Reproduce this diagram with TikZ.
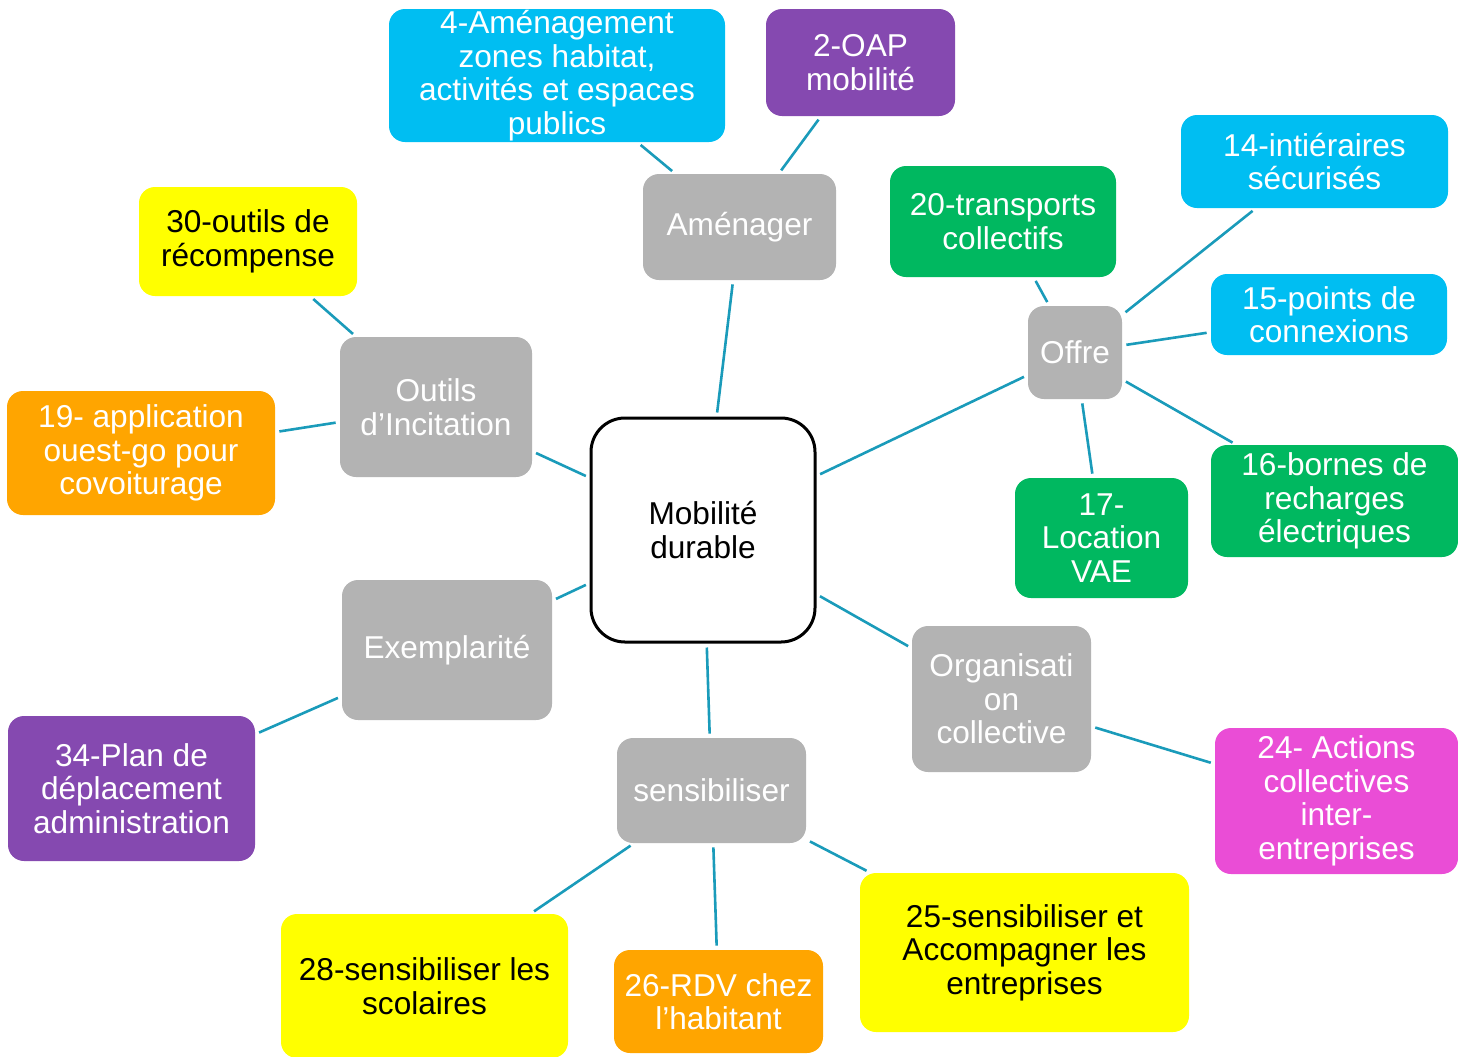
\documentclass[tikz,border=0pt]{standalone}
\usepackage{fontspec}
\setmainfont{Liberation Sans}
\definecolor{gris}{HTML}{B3B3B3}
\definecolor{bleuc}{HTML}{00BEF2}
\definecolor{vertc}{HTML}{00B860}
\definecolor{violetc}{HTML}{8549B0}
\definecolor{jaunec}{HTML}{FFFF00}
\definecolor{orangec}{HTML}{FFA500}
\definecolor{rosec}{HTML}{EA4DD6}
\definecolor{lienc}{HTML}{1A9BBA}

\begin{document}
\begin{tikzpicture}[x=0.5pt,y=-0.5pt,
	every node/.style={font=\fontsize{15.8}{16.8}\selectfont,align=center,inner sep=0pt},
	centre/.style={draw=black,line width=1.5pt,fill=white,rounded corners=17pt},
	cat/.style={fill=gris,text=white,rounded corners=8pt},
	feuille/.style={fill=#1,text=white,rounded corners=8pt},
	feuillej/.style={fill=jaunec,text=black,rounded corners=8pt},
	lien/.style={draw=lienc,line width=1.3pt,shorten >=2pt,shorten <=2pt}]
	\useasboundingbox (0,0) rectangle (1458,1056);
	% noeud central
	\node[centre,minimum width=112pt,minimum height=112pt] (mob) at (703,530) {Mobilité\\durable};
	% categories
	\node[cat,minimum width=96.5pt,minimum height=53pt] (amen) at (739.5,227) {Aménager};
	\node[cat,minimum width=96pt,minimum height=70pt] (outils) at (436,407) {Outils\\d’Incitation};
	\node[cat,minimum width=47pt,minimum height=46.5pt] (offre) at (1075,352.5) {Offre};
	\node[cat,minimum width=105pt,minimum height=70pt] (exemp) at (447,650) {Exemplarité};
	\node[cat,minimum width=89.5pt,minimum height=73pt] (orga) at (1001.5,699) {Organisati\\on\\collective};
	\node[cat,minimum width=94.5pt,minimum height=52.5pt] (sensib) at (711.5,790.5) {sensibiliser};
	% actions
	\node[feuille=bleuc,minimum width=168pt,minimum height=66.5pt] (a4) at (557,75.5) {4-Aménagement\\zones habitat,\\activités et espaces\\publics};
	\node[feuille=violetc,minimum width=94.5pt,minimum height=53.5pt] (a2) at (860.5,62.5) {2-OAP\\mobilité};
	\node[feuille=bleuc,minimum width=133.5pt,minimum height=46.5pt] (a14) at (1314.5,161.5) {14-intiéraires\\sécurisés};
	\node[feuille=vertc,minimum width=113pt,minimum height=55.5pt] (a20) at (1003,221.5) {20-transports\\collectifs};
	\node[feuille=bleuc,minimum width=118pt,minimum height=40.5pt] (a15) at (1329,314.5) {15-points de\\connexions};
	\node[feuille=vertc,minimum width=123.5pt,minimum height=56pt] (a16) at (1334.5,501) {16-bornes de\\recharges\\électriques};
	\node[feuille=vertc,minimum width=86.5pt,minimum height=60pt] (a17) at (1101.5,538) {17-\\Location\\VAE};
	\node[feuille=rosec,minimum width=121.5pt,minimum height=73pt] (a24) at (1336.5,801) {24- Actions\\collectives\\inter-\\entreprises};
	\node[feuillej,minimum width=109pt,minimum height=54.5pt] (a30) at (248,241.5) {30-outils de\\récompense};
	\node[feuille=orangec,minimum width=134pt,minimum height=62pt] (a19) at (141,453) {19- application\\ouest-go pour\\covoiturage};
	\node[feuille=violetc,minimum width=123.5pt,minimum height=72.5pt] (a34) at (131.5,788.5) {34-Plan de\\déplacement\\administration};
	\node[feuillej,minimum width=143.5pt,minimum height=72pt] (a28) at (424.5,986) {28-sensibiliser les\\scolaires};
	\node[feuille=orangec,minimum width=104.5pt,minimum height=51.5pt] (a26) at (718.5,1001.5) {26-RDV chez\\l’habitant};
	\node[feuillej,minimum width=164.5pt,minimum height=79.5pt] (a25) at (1024.5,952.5) {25-sensibiliser et\\Accompagner les\\entreprises};
	% liens
	\foreach \a/\b in {mob/amen,mob/outils,mob/exemp,mob/offre,mob/orga,mob/sensib,
		amen/a4,amen/a2,outils/a30,outils/a19,exemp/a34,
		offre/a20,offre/a14,offre/a15,offre/a16,offre/a17,
		orga/a24,sensib/a28,sensib/a26,sensib/a25}
		\draw[lien] (\a) -- (\b);
\end{tikzpicture}
\end{document}
